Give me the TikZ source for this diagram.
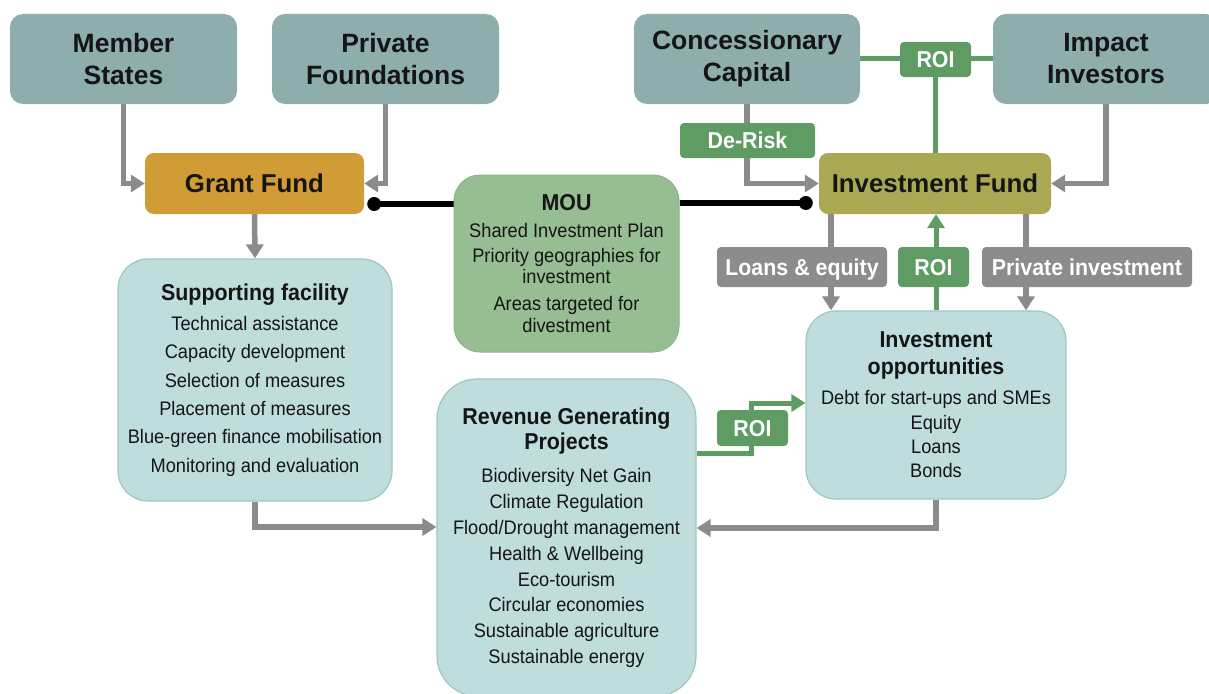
\documentclass[tikz,border=0pt]{standalone}
\usepackage{fontspec}
\setmainfont{Liberation Sans}
\newfontfamily\cf{Liberation Sans}[FakeStretch=0.93]
\usetikzlibrary{arrows.meta,backgrounds}
\definecolor{topc}{HTML}{8DAEAC}
\definecolor{grantc}{HTML}{D19B35}
\definecolor{fundc}{HTML}{ABA853}
\definecolor{lightc}{HTML}{BEDDDC}
\definecolor{lightbd}{HTML}{9CC6C4}
\definecolor{mouc}{HTML}{97BE92}
\definecolor{moubd}{HTML}{8BB686}
\definecolor{greenc}{HTML}{5F9C63}
\definecolor{graylab}{HTML}{8C8C8C}
\definecolor{arrowc}{HTML}{8B8B8B}
\definecolor{txt}{HTML}{151515}
\begin{document}
\begin{tikzpicture}[x=1pt,y=-1pt,
  topbox/.style={fill=topc, rounded corners=13pt, minimum width=227pt, minimum height=90pt,
    inner sep=0pt, align=center, text=txt, font=\fontsize{26.5}{32}\selectfont\bfseries},
  fundbox/.style={rounded corners=9pt, minimum height=61pt, inner sep=0pt, text=txt,
    font=\fontsize{25.8}{32}\selectfont\bfseries},
  softbox/.style={fill=lightc, draw=lightbd, line width=1.2pt, inner sep=0pt, align=center, text=txt},
  moubox/.style={fill=mouc, draw=moubd, line width=1pt, inner sep=0pt, align=center, text=txt,
    rounded corners=26pt, font=\cf\fontsize{19.6}{21.5}\selectfont},
  tag/.style={text=white, inner sep=0pt, rounded corners=4pt, text height=16.5pt, text depth=0pt,
    font=\cf\fontsize{23}{23}\selectfont\bfseries},
  greentag/.style={tag, fill=greenc},
  graytag/.style={tag, fill=graylab},
  garrow/.style={draw=arrowc, line width=5.5pt, line join=miter, -{Triangle[length=14pt,width=17pt]}},
  gline/.style={draw=greenc, line width=5pt, line join=miter},
  grarrow/.style={gline, -{Triangle[length=14pt,width=17pt]}},
  mouline/.style={draw=black, line width=5.5pt}
]
\useasboundingbox (0,0) rectangle (1209,693);
\clip (0,0) rectangle (1209,693);

% top boxes
\node[topbox] (member) at (123.5,59) {Member\\States};
\node[topbox] (private) at (385.5,59) {Private\\Foundations};
\node[topbox, minimum width=226pt] (conc) at (747,59) {Concessionary\\Capital};
\node[topbox, minimum width=226pt] (impact) at (1106,59) {Impact\\Investors};

% funds
\node[fundbox, fill=grantc, minimum width=219pt] (grant) at (254.5,183.5) {Grant Fund};
\node[fundbox, fill=fundc, minimum width=232pt] (invfund) at (935,183.5) {Investment Fund};

% supporting facility
\node[softbox, rounded corners=30pt, minimum width=274pt, minimum height=242pt,
  font=\cf\fontsize{19.6}{28.4}\selectfont] (support) at (255,380)
  {{\fontsize{23}{28}\selectfont\bfseries Supporting facility}\\[1.6pt]
   Technical assistance\\Capacity development\\Selection of measures\\
   Placement of measures\\Blue-green finance mobilisation\\Monitoring and evaluation};

% MOU
\node[moubox, minimum width=225pt, minimum height=177pt] (mou) at (566.5,263.5)
  {{\fontsize{23}{23}\selectfont\bfseries MOU}\\[5.5pt]
   Shared Investment Plan\\[3.5pt]
   Priority geographies for\\investment\\[5.5pt]
   Areas targeted for\\divestment};

% revenue generating projects
\node[softbox, rounded corners=40pt, minimum width=259pt, minimum height=317pt,
  font=\cf\fontsize{19.6}{25.8}\selectfont] (revenue) at (566.5,537.5)
  {{\fontsize{23}{26}\selectfont\bfseries Revenue Generating}\\
   {\fontsize{23}{26}\selectfont\bfseries Projects}\\[7.2pt]
   Biodiversity Net Gain\\Climate Regulation\\Flood/Drought management\\
   Health \& Wellbeing\\Eco-tourism\\Circular economies\\
   Sustainable agriculture\\Sustainable energy};

% investment opportunities
\node[softbox, rounded corners=30pt, minimum width=260pt, minimum height=188pt,
  font=\cf\fontsize{19.6}{24.3}\selectfont] (invopp) at (936,405)
  {{\fontsize{23}{24}\selectfont\bfseries Investment}\\[2.7pt]
   {\fontsize{23}{24}\selectfont\bfseries opportunities}\\[5.7pt]
   Debt for start-ups and SMEs\\Equity\\Loans\\Bonds};

% tags
\node[greentag, minimum width=135pt, minimum height=35pt] (derisk) at (747.5,140.5) {De-Risk};
\node[greentag, minimum width=71pt, minimum height=35pt] (roitop) at (935.5,59.5) {ROI};
\node[graytag, minimum width=170pt, minimum height=40pt] (loans) at (802,267) {Loans \& equity};
\node[greentag, minimum width=71pt, minimum height=40pt] (roimid) at (933.5,267) {ROI};
\node[graytag, minimum width=210pt, minimum height=40pt] (privinv) at (1087,267) {Private investment};
\node[greentag, minimum width=71pt, minimum height=36pt] (roibot) at (752.5,428) {ROI};

\coordinate (gdot) at ([shift={(10pt,-20.5pt)}]grant.east);
\coordinate (idot) at ([shift={(-13pt,-19.5pt)}]invfund.west);

\begin{pgfonlayer}{background}
  % grant side
  \draw[garrow] (member.south) |- (grant.west);
  \draw[garrow] (private.south) |- (grant.east);
  \draw[garrow] (grant.south) -- (support.north);
  \draw[garrow] (support.south) |- ([yshift=10.5pt]revenue.west);
  % MOU links
  \draw[mouline] (gdot) -- (gdot -| mou.west);
  \fill (gdot) circle (7pt);
  \draw[mouline] (idot -| mou.east) -- (idot);
  \fill (idot) circle (7pt);
  % investment fund inputs
  \draw[garrow] (conc.south) |- (invfund.west);
  \draw[garrow] (impact.south) |- (invfund.east);
  \draw[gline] (conc.east) -- (impact.west);
  \draw[gline] (roitop.south) -- (roitop.south |- invfund.north);
  % investment fund outputs
  \draw[garrow] ([xshift=-104pt]invfund.south) -- ([xshift=-104pt]invfund.south |- invopp.north);
  \draw[garrow] ([xshift=91pt]invfund.south) -- ([xshift=91pt]invfund.south |- invopp.north);
  \draw[grarrow] (invopp.north) -- (invopp.north |- invfund.south);
  % revenue and opportunities
  \draw[grarrow] ([yshift=84pt]revenue.east) -| ([xshift=-1.5pt]roibot.center) |- ([yshift=2pt]invopp.west);
  \draw[garrow] (invopp.south) |- ([yshift=9.5pt]revenue.east);
\end{pgfonlayer}
\end{tikzpicture}
\end{document}
